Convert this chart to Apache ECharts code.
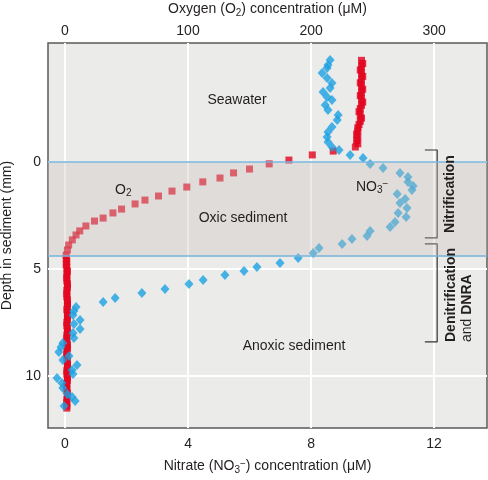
<!DOCTYPE html>
<html>
<head>
<meta charset="utf-8">
<script src="https://cdn.jsdelivr.net/npm/echarts@6/dist/echarts.min.js"></script>
<style>
  html, body { margin: 0; padding: 0; background: #fff; }
  #chart { width: 488px; height: 480px; }
</style>
</head>
<body>
<div id="chart"></div>
<script>
// depth (mm) of each O2 reading and its concentration (uM)
const o2Depth = [
  -4.75, -4.6, -4.45, -4.3, -4.15, -4.0, -3.85, -3.7, -3.55, -3.4, -3.25, -3.1,
  -2.95, -2.8, -2.65, -2.5, -2.35, -2.2, -2.05, -1.9, -1.75, -1.6, -1.45, -1.3,
  -1.15, -1.0, -0.85, -0.7,
  -0.51, -0.33, -0.09, 0.09, 0.33, 0.51, 0.75, 0.93, 1.17, 1.36, 1.59, 1.78,
  1.96, 2.2, 2.38, 2.62, 2.76, 2.99, 3.22, 3.41, 3.64, 3.88, 4.11, 4.35,
  4.5, 4.65, 4.8, 4.95, 5.1, 5.25, 5.4, 5.55, 5.7, 5.85, 6.0, 6.15, 6.3, 6.45,
  6.6, 6.75, 6.9, 7.05, 7.2, 7.35, 7.5, 7.65, 7.8, 7.95, 8.1, 8.25, 8.4, 8.55,
  8.7, 8.85, 9.0, 9.15, 9.3, 9.45, 9.6, 9.75, 9.9, 10.05, 10.2, 10.35, 10.5,
  10.65, 10.8, 10.95, 11.1, 11.25, 11.4, 11.5
];
const o2Conc = [
  241, 242, 241, 240, 241, 242, 241, 240, 241, 242, 241, 240,
  241, 242, 241, 240, 239, 240, 241, 240, 239, 238, 238, 237,
  238, 237, 238, 236,
  218, 201, 182, 166, 150, 137, 126, 112, 99, 87, 76, 65,
  57, 46, 39, 31, 24, 17, 12, 9, 6, 3, 2, 1,
  1, 1.5, 1, 1.5, 2, 1.5, 1.5, 1.5, 2, 2, 1.5, 1.5, 1.5, 2, 2,
  2, 1.5, 2, 2, 2, 1.5, 1.5, 2, 2, 1.5, 1.5, 1.5, 2,
  2, 1.5, 1.5, 1.5, 2, 2, 2, 1.5, 1.5, 2, 2, 1.5, 1.5,
  1.5, 2, 2, 1.5, 1.5, 1.5, 1.5
];

// depth (mm) of each nitrate reading and its concentration (uM)
const no3Depth = [
  -4.77, -4.53, -4.39, -4.16, -3.93, -3.69, -3.46, -3.27, -3.04, -2.9, -2.66,
  -2.43, -2.2, -1.96, -1.64, -1.4, -1.17, -0.93, -0.7, -0.56, -0.33, -0.19,
  0.09, 0.28, 0.51, 0.7, 0.93, 1.12, 1.31, 1.5, 1.73, 1.92, 2.15, 2.38, 2.57,
  2.8, 3.04, 3.22, 3.46, 3.6, 3.83, 4.02, 4.25, 4.49, 4.72, 4.91, 5.09, 5.28,
  5.51, 5.7, 5.93, 6.12, 6.36, 6.54, 6.78, 6.96, 7.15, 7.38, 7.57, 7.8, 7.99,
  8.22, 8.46, 8.65, 8.88, 9.07, 9.25, 9.49, 9.72, 9.91, 10.09, 10.33, 10.56,
  10.84, 10.98, 11.17, 11.4
];
const no3Conc = [
  8.62, 8.55, 8.52, 8.36, 8.52, 8.68, 8.62, 8.39, 8.52, 8.68, 8.46,
  8.55, 8.88, 8.85, 8.68, 8.55, 8.52, 8.55, 8.68, 8.91, 9.27, 9.69,
  9.92, 10.34, 10.89, 11.15, 11.15, 11.32, 11.28, 10.8, 11.06, 10.89, 11.12, 10.83, 11.09,
  10.73, 10.57, 9.92, 9.82, 9.33, 9.01, 8.26, 8.07, 7.58, 6.99, 6.24, 5.82, 5.2,
  4.49, 4.03, 3.25, 2.5, 1.63, 1.24, 0.36, 0.29, 0.26, 0.49, 0.29, 0.49, 0.26,
  0.29, -0.07, -0.13, -0.2, 0.13, -0.07, 0.39, 0.23, 0.26, -0.26, -0.1, -0.07,
  0.07, 0.23, 0.33, -0.03
];

const nitrateTicks = [0, 4, 8, 12];
const oxygenTicks = [0, 100, 200, 300];
const depthTicks = [0, 5, 10];
const oxicZone = [0, 4.4];
const nitrificationSpan = [-0.56, 3.55];
const denitrificationSpan = [3.83, 8.41];
const bracketX = [11.7, 12.1];

const font = 'Liberation Sans, Arial, Helvetica, sans-serif';
const ink = '#231f20';
const fs = 14;

function bracket(span) {
  return [
    [bracketX[0], span[0]], [bracketX[1], span[0]],
    [bracketX[1], span[1]], [bracketX[0], span[1]]
  ];
}

const subStyle = { fontSize: 10, padding: [7, 0, 0, 0], fontFamily: font };
const supStyle = { fontSize: 10, padding: [0, 0, 5, 0], fontFamily: font };

const chart = echarts.init(document.getElementById('chart'));
chart.setOption({
  animation: false,
  textStyle: { fontFamily: font, color: ink },
  grid: {
    left: 48, right: 1, top: 43, bottom: 52,
    outerBoundsMode: 'none', containLabel: false,
    show: true, backgroundColor: '#ebebea',
    borderColor: '#5a5a5a', borderWidth: 1.5
  },
  xAxis: [
    {
      type: 'value', position: 'bottom', min: -0.553, max: 13.72,
      name: 'Nitrate (NO{s|3}{p|\u2212}) concentration (\u03bcM)',
      nameLocation: 'middle', nameGap: 30,
      nameTextStyle: { fontSize: fs, color: ink, fontFamily: font, rich: { s: subStyle, p: supStyle } },
      axisLine: { show: false },
      axisTick: { show: false, customValues: nitrateTicks },
      axisLabel: { customValues: nitrateTicks, fontSize: fs, color: ink, margin: 9 },
      splitLine: { show: true, lineStyle: { color: '#ffffff', width: 2 } }
    },
    {
      type: 'value', position: 'top', min: -13.8, max: 343,
      name: 'Oxygen (O{s|2}) concentration (\u03bcM)',
      nameLocation: 'middle', nameGap: 25,
      nameTextStyle: { fontSize: fs, color: ink, fontFamily: font, rich: { s: subStyle } },
      axisLine: { show: false },
      axisTick: { show: false, customValues: oxygenTicks },
      axisLabel: { customValues: oxygenTicks, fontSize: fs, color: ink, margin: 5 },
      splitLine: { show: false }
    }
  ],
  yAxis: {
    type: 'value', inverse: true, min: -5.56, max: 12.43,
    name: 'Depth in sediment (mm)', nameLocation: 'middle', nameGap: 31,
    nameTextStyle: { fontSize: fs, color: ink },
    axisLine: { show: false },
    axisTick: { show: false, customValues: depthTicks },
    axisLabel: { customValues: depthTicks, fontSize: fs, color: ink, margin: 7 },
    splitLine: { show: true, lineStyle: { color: '#ffffff', width: 2 } }
  },
  series: [
    {
      name: 'O2', type: 'scatter', xAxisIndex: 1, z: 2,
      symbol: 'rect', symbolSize: 7,
      itemStyle: { color: '#e2001a' },
      data: o2Depth.map((d, i) => [o2Conc[i], d])
    },
    {
      name: 'NO3', type: 'scatter', xAxisIndex: 0, z: 3,
      symbol: 'diamond', symbolSize: [9, 10],
      itemStyle: { color: '#1ba1e2' },
      data: no3Depth.map((d, i) => [no3Conc[i], d]),
      markArea: {
        silent: true, z: 10,
        itemStyle: { color: 'rgba(200,190,184,0.34)' },
        data: [[{ yAxis: oxicZone[0] }, { yAxis: oxicZone[1] }]]
      },
      markLine: {
        silent: true, z: 11, symbol: 'none', label: { show: false },
        lineStyle: { color: '#76b4dc', width: 1.5, type: 'solid' },
        data: oxicZone.map((v) => ({ yAxis: v }))
      }
    },
    {
      type: 'line', xAxisIndex: 0, z: 4, silent: true,
      showSymbol: false, symbol: 'none',
      lineStyle: { color: '#333', width: 1.2 },
      data: bracket(nitrificationSpan)
    },
    {
      type: 'line', xAxisIndex: 0, z: 4, silent: true,
      showSymbol: false, symbol: 'none',
      lineStyle: { color: '#333', width: 1.2 },
      data: bracket(denitrificationSpan)
    }
  ],
  graphic: [
    { type: 'text', x: 237, y: 100, z: 20, style: { text: 'Seawater', font: fs + 'px ' + font, fill: ink, align: 'center', verticalAlign: 'middle' } },
    { type: 'text', x: 243, y: 218, z: 20, style: { text: 'Oxic sediment', font: fs + 'px ' + font, fill: ink, align: 'center', verticalAlign: 'middle' } },
    { type: 'text', x: 294, y: 346, z: 20, style: { text: 'Anoxic sediment', font: fs + 'px ' + font, fill: ink, align: 'center', verticalAlign: 'middle' } },
    {
      type: 'text', x: 115, y: 190, z: 20,
      style: { text: 'O{s|2}', font: fs + 'px ' + font, fill: ink, verticalAlign: 'middle', rich: { s: subStyle } }
    },
    {
      type: 'text', x: 356, y: 187, z: 20,
      style: { text: 'NO{s|3}{p|\u2212}', font: fs + 'px ' + font, fill: ink, verticalAlign: 'middle', rich: { s: subStyle, p: supStyle } }
    },
    {
      type: 'text', x: 450, y: 194, z: 20, rotation: Math.PI / 2,
      style: { text: 'Nitrification', font: 'bold ' + fs + 'px ' + font, fill: ink, align: 'center', verticalAlign: 'middle' }
    },
    {
      type: 'text', x: 459, y: 342, z: 20, rotation: Math.PI / 2,
      style: {
        text: '{b|Denitrification}\n{n|and }{b|DNRA}',
        align: 'left', verticalAlign: 'middle', fill: ink,
        rich: {
          b: { fontWeight: 'bold', fontSize: fs, lineHeight: 16, fontFamily: font },
          n: { fontSize: fs, lineHeight: 16, fontFamily: font }
        }
      }
    }
  ]
});
</script>
</body>
</html>
